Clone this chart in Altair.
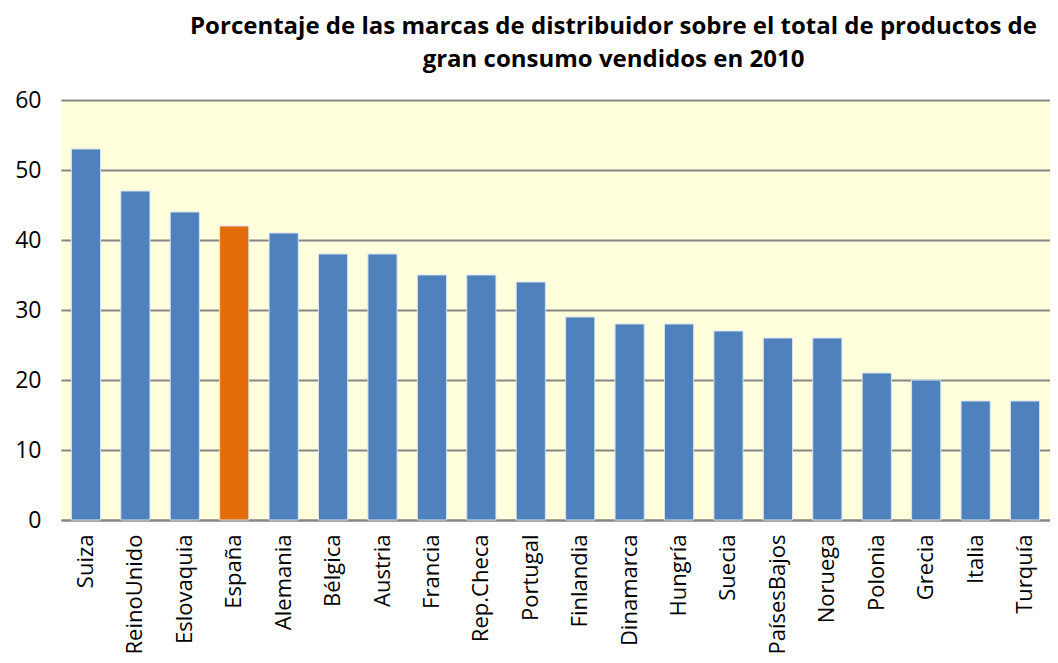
import altair as alt
import pandas as pd

paises = ["Suiza", "ReinoUnido", "Eslovaquia", "España", "Alemania", "Bélgica",
          "Austria", "Francia", "Rep.Checa", "Portugal", "Finlandia", "Dinamarca",
          "Hungría", "Suecia", "PaísesBajos", "Noruega", "Polonia", "Grecia",
          "Italia", "Turquía"]
valores = [53, 47, 44, 42, 41, 38, 38, 35, 35, 34, 29, 28, 28, 27, 26, 26, 21, 20, 17, 17]
destacado = "España"

df = pd.DataFrame({"pais": paises, "valor": valores})
df["grupo"] = ["dest" if p == destacado else "resto" for p in paises]

FONT = "Open Sans"

chart = alt.Chart(df).mark_bar(stroke="#D6E2EE", strokeWidth=1).encode(
    x=alt.X("pais:N", sort=paises, title=None,
            scale=alt.Scale(paddingInner=0.41, paddingOuter=0.21),
            axis=alt.Axis(labelAngle=270, labelFontSize=22, labelFont=FONT,
                          labelColor="#000000", labelPadding=14, ticks=False,
                          domainColor="#868686", domainWidth=2, labelAlign="right",
                          labelBaseline="middle")),
    y=alt.Y("valor:Q", title=None,
            scale=alt.Scale(domain=[0, 60]),
            axis=alt.Axis(values=[0, 10, 20, 30, 40, 50, 60], labelFontSize=23,
                          labelFont=FONT, labelColor="#000000", labelPadding=20,
                          ticks=False, domain=False, gridColor="#868686",
                          gridWidth=2)),
    color=alt.Color("grupo:N", legend=None,
                    scale=alt.Scale(domain=["resto", "dest"],
                                    range=["#4F81BD", "#E46C0A"])),
).properties(
    width=989,
    height=420,
    title=alt.TitleParams(
        text=["Porcentaje de las marcas de distribuidor sobre el total de productos de",
              "gran consumo vendidos en 2010"],
        font=FONT, fontSize=24, fontWeight="bold", color="#000000",
        anchor="middle", dx=58, offset=17, lineHeight=33),
    autosize=alt.AutoSizeParams(type="none"),
    padding={"left": 53, "top": 92, "right": 0, "bottom": 135},
).configure_view(
    fill="#FFFFDD", stroke=None
)

chart.save("out.html", embed_options={"renderer": "svg", "actions": False})
